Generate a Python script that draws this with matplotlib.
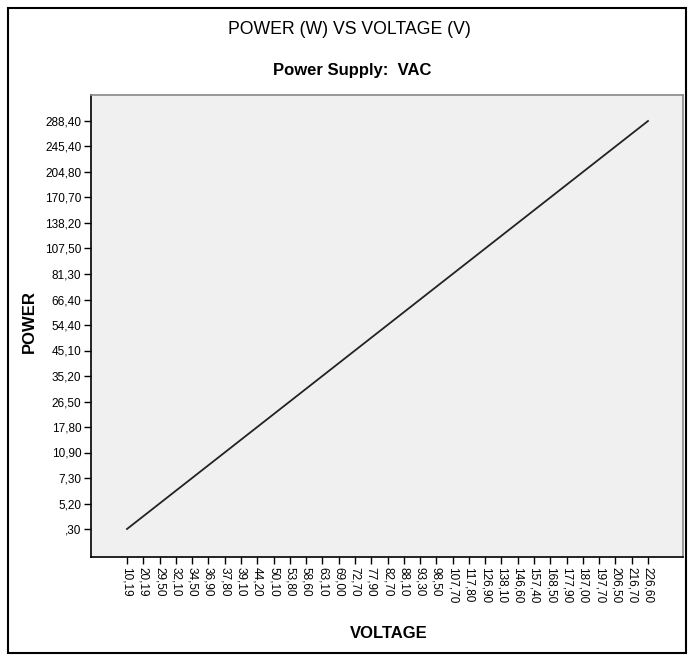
import matplotlib
matplotlib.use("Agg")
import matplotlib.pyplot as plt
from matplotlib.patches import Rectangle

plt.rcParams['font.family'] = ['Liberation Sans', 'DejaVu Sans']

# category labels as SPSS shows them (comma decimals)
voltage_labels = ['10,19', '20,19', '29,50', '32,10', '34,50', '36,90', '37,80', '39,10',
                  '44,20', '50,10', '53,80', '58,60', '63,10', '69,00', '72,70', '77,90',
                  '82,70', '88,10', '93,30', '98,50', '107,70', '117,80', '126,90', '138,10',
                  '146,60', '157,40', '168,50', '177,90', '187,00', '197,70', '206,50',
                  '216,70', '226,60']
power_labels = [',30', '5,20', '7,30', '10,90', '17,80', '26,50', '35,20', '45,10',
                '54,40', '66,40', '81,30', '107,50', '138,20', '170,70', '204,80',
                '245,40', '288,40']

# line series: voltage category -> power category (end points of the straight line)
line_voltage = ['10,19', '226,60']
line_power = [',30', '288,40']

W, H = 691, 661
fig = plt.figure(figsize=(W / 100, H / 100), dpi=100)

# outer frame
fig.patches.append(Rectangle((8 / W, 1 - 653 / H), (686 - 8) / W, (653 - 8) / H,
                             transform=fig.transFigure, fill=False, lw=1.5,
                             edgecolor='black'))

left, right, top, bottom = 91, 683, 95, 557
ax = fig.add_axes([left / W, 1 - bottom / H, (right - left) / W, (bottom - top) / H])
ax.set_facecolor('#f0f0f0')

xi = [voltage_labels.index(v) for v in line_voltage]
yi = [power_labels.index(p) for p in line_power]
ax.plot(xi, yi, color='#222222', lw=1.3)

ax.set_xticks(range(len(voltage_labels)))
ax.set_xticklabels(voltage_labels, rotation=-90, fontsize=8.5, va='top', ha='center')
ax.set_yticks(range(len(power_labels)))
ax.set_yticklabels(power_labels, fontsize=8.5)

nx = len(voltage_labels) - 1
ny = len(power_labels) - 1
sx = (648 - 127) / nx
sy = (529 - 121) / ny
ax.set_xlim(-(127 - left) / sx, nx + (right - 648) / sx)
ax.set_ylim(-(bottom - 529) / sy, ny + (121 - top) / sy)

ax.tick_params(direction='out', length=5, width=1, color='black', pad=2)
for s in ['left', 'bottom']:
    ax.spines[s].set_color('black')
    ax.spines[s].set_linewidth(1.2)
for s in ['top', 'right']:
    ax.spines[s].set_color('#888888')
    ax.spines[s].set_linewidth(1.2)

fig.text(389 / W, 1 - 633 / H, 'VOLTAGE', ha='center', va='center',
         fontsize=12, fontweight='bold')
fig.text(29 / W, 1 - 322 / H, 'POWER', ha='center', va='center', rotation=90,
         fontsize=12, fontweight='bold')

fig.text(349 / W, 1 - 29 / H, 'POWER (W) VS VOLTAGE (V)',
         ha='center', va='center', fontsize=12.7)
fig.text(352 / W, 1 - 71 / H, 'Power Supply:  VAC',
         ha='center', va='center', fontsize=12, fontweight='bold')

fig.savefig('out.png', dpi=100)
